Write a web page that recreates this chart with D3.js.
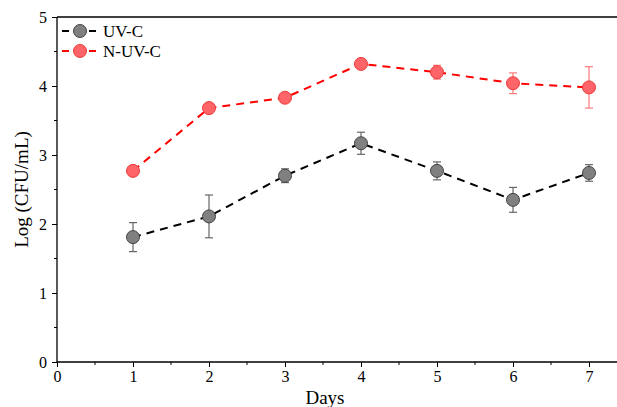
<!DOCTYPE html>
<html>
<head>
<meta charset="utf-8">
<script src="https://cdn.jsdelivr.net/npm/d3@7"></script>
<style>
  body { margin: 0; background: #fff; }
  svg text { font-family: "Liberation Serif", "Times New Roman", serif; fill: #000; }
</style>
</head>
<body>
<div id="chart"></div>
<script>
const days = [1, 2, 3, 4, 5, 6, 7];
const uvc = [1.81, 2.11, 2.70, 3.17, 2.77, 2.35, 2.74];
const uvcErr = [0.21, 0.31, 0.10, 0.16, 0.13, 0.18, 0.12];
const nuvc = [2.77, 3.68, 3.83, 4.32, 4.20, 4.04, 3.98];
const nuvcErr = [0.05, 0.04, 0.06, 0.04, 0.10, 0.15, 0.30];
const xTicks = [0, 1, 2, 3, 4, 5, 6, 7];
const yTicks = [0, 1, 2, 3, 4, 5];

const width = 617, height = 407;
const margin = { top: 17, right: 0, bottom: 45, left: 57 };

const svg = d3.select("#chart").append("svg")
  .attr("width", width)
  .attr("height", height);

const x = d3.scaleLinear().domain([0, 7]).range([margin.left, 589]);
const y = d3.scaleLinear().domain([0, 5]).range([height - margin.bottom, margin.top]);

// frame (top line)
svg.append("line")
  .attr("x1", margin.left).attr("x2", width)
  .attr("y1", y(5)).attr("y2", y(5))
  .attr("stroke", "#000").attr("stroke-width", 1.3);

// x axis
const xAxis = svg.append("g")
  .attr("transform", `translate(0,${y(0)})`)
  .call(d3.axisBottom(x).tickValues(xTicks).tickFormat(d3.format("d")).tickSize(5).tickPadding(4));
xAxis.select(".domain").attr("d", `M${margin.left},0H${width}`).attr("stroke-width", 1.3);
xAxis.selectAll("text").attr("font-size", 16);
svg.append("g")
  .attr("transform", `translate(0,${y(0)})`)
  .selectAll("line")
  .data(d3.range(0.5, 7.6, 1))
  .join("line")
  .attr("x1", d => x(d)).attr("x2", d => x(d))
  .attr("y1", 0).attr("y2", 3)
  .attr("stroke", "#000");

// y axis
const yAxis = svg.append("g")
  .attr("transform", `translate(${margin.left},0)`)
  .call(d3.axisLeft(y).tickValues(yTicks).tickFormat(d3.format("d")).tickSize(5).tickPadding(5));
yAxis.select(".domain").attr("d", `M0,${y(0)}V${y(5)}`).attr("stroke-width", 1.3);
yAxis.selectAll("text").attr("font-size", 16);
svg.append("g")
  .attr("transform", `translate(${margin.left},0)`)
  .selectAll("line")
  .data(d3.range(0.5, 5, 1))
  .join("line")
  .attr("x1", 0).attr("x2", -3)
  .attr("y1", d => y(d)).attr("y2", d => y(d))
  .attr("stroke", "#000");

// labels
svg.append("text")
  .attr("x", x(3.5) + 2).attr("y", 404)
  .attr("text-anchor", "middle")
  .attr("font-size", 19)
  .text("Days");
svg.append("text")
  .attr("transform", `translate(28,${(y(0) + y(5)) / 2}) rotate(-90)`)
  .attr("text-anchor", "middle")
  .attr("font-size", 19)
  .text("Log (CFU/mL)");

const series = [
  { name: "UV-C", values: uvc, err: uvcErr, line: "#000", fill: "#808080", stroke: "#444", errColor: "#666" },
  { name: "N-UV-C", values: nuvc, err: nuvcErr, line: "#ff0000", fill: "#ff6468", stroke: "#ee3a3a", errColor: "#ff7a7a" }
];

const line = d3.line().x((d, i) => x(days[i])).y(d => y(d));

series.forEach(s => {
  const g = svg.append("g");
  g.append("path")
    .attr("d", line(s.values))
    .attr("fill", "none")
    .attr("stroke", s.line)
    .attr("stroke-width", 2)
    .attr("stroke-dasharray", "8,6");
  const eb = g.selectAll(".err").data(s.values).join("g");
  eb.append("line")
    .attr("x1", (d, i) => x(days[i])).attr("x2", (d, i) => x(days[i]))
    .attr("y1", (d, i) => y(d + s.err[i])).attr("y2", (d, i) => y(d - s.err[i]))
    .attr("stroke", s.errColor).attr("stroke-width", 1.2);
  [1, -1].forEach(sign => {
    eb.append("line")
      .attr("x1", (d, i) => x(days[i]) - 4).attr("x2", (d, i) => x(days[i]) + 4)
      .attr("y1", (d, i) => y(d + sign * s.err[i])).attr("y2", (d, i) => y(d + sign * s.err[i]))
      .attr("stroke", s.errColor).attr("stroke-width", 1.2);
  });
  g.selectAll("circle").data(s.values).join("circle")
    .attr("cx", (d, i) => x(days[i]))
    .attr("cy", d => y(d))
    .attr("r", 6.5)
    .attr("fill", s.fill)
    .attr("stroke", s.stroke)
    .attr("stroke-width", 1);
});

// legend
const legend = svg.append("g");
series.forEach((s, i) => {
  const ly = 31 + i * 20;
  legend.append("line")
    .attr("x1", 62).attr("x2", 96).attr("y1", ly).attr("y2", ly)
    .attr("stroke", s.line).attr("stroke-width", 2)
    .attr("stroke-dasharray", "7,20");
  legend.append("circle")
    .attr("cx", 80).attr("cy", ly).attr("r", 6.5)
    .attr("fill", s.fill).attr("stroke", s.stroke);
  legend.append("text")
    .attr("x", 103).attr("y", ly + 5.5)
    .attr("font-size", 17)
    .text(s.name);
});
</script>
</body>
</html>
